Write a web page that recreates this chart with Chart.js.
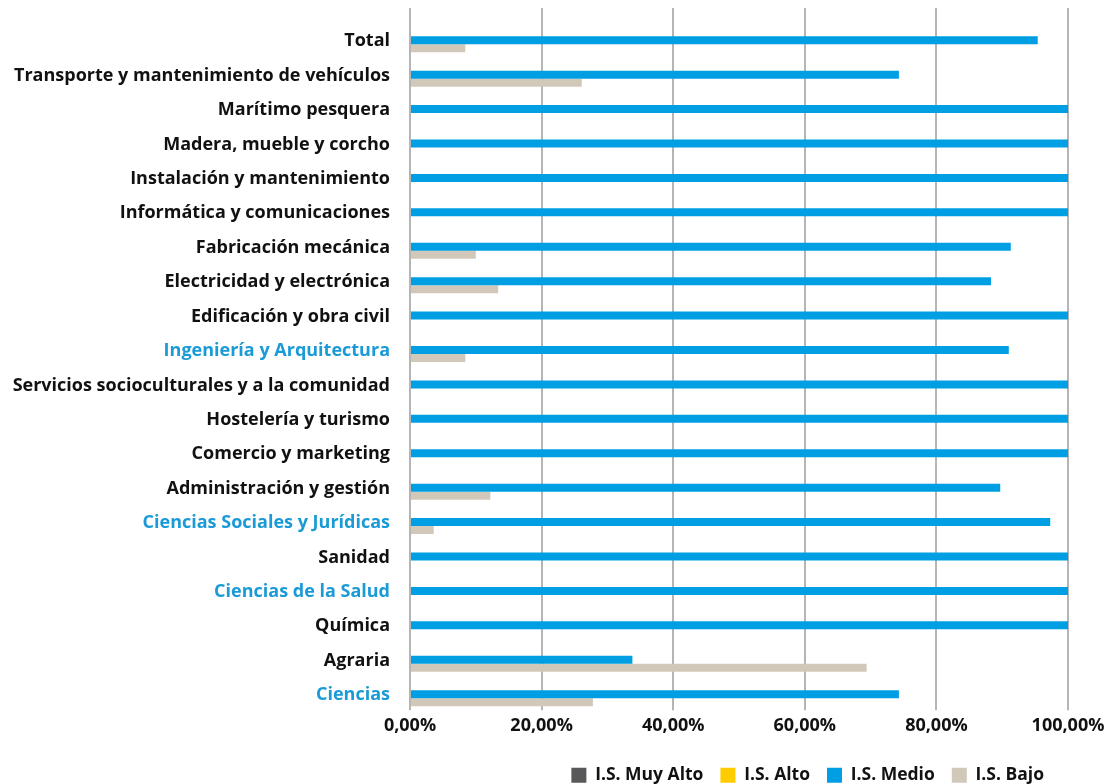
<!DOCTYPE html>
<html>
<head>
<meta charset="utf-8">
<script src="https://cdn.jsdelivr.net/npm/chart.js@4.4.1/dist/chart.umd.min.js"></script>
<style>
  html, body { margin: 0; padding: 0; background: #ffffff; }
  #chart { display: block; }
</style>
</head>
<body>
<canvas id="chart" width="1106" height="784"></canvas>
<script>
// categories, top to bottom
const familias = [
    'Total',
    'Transporte y mantenimiento de vehículos',
    'Marítimo pesquera',
    'Madera, mueble y corcho',
    'Instalación y mantenimiento',
    'Informática y comunicaciones',
    'Fabricación mecánica',
    'Electricidad y electrónica',
    'Edificación y obra civil',
    'Ingeniería y Arquitectura',
    'Servicios socioculturales y a la comunidad',
    'Hostelería y turismo',
    'Comercio y marketing',
    'Administración y gestión',
    'Ciencias Sociales y Jurídicas',
    'Sanidad',
    'Ciencias de la Salud',
    'Química',
    'Agraria',
    'Ciencias'
];

// rama headers are drawn in blue
const ramas = ['Ingeniería y Arquitectura', 'Ciencias Sociales y Jurídicas', 'Ciencias de la Salud', 'Ciencias'];

const muyAlto = [0, 0, 0, 0, 0, 0, 0, 0, 0, 0, 0, 0, 0, 0, 0, 0, 0, 0, 0, 0];
const alto    = [0, 0, 0, 0, 0, 0, 0, 0, 0, 0, 0, 0, 0, 0, 0, 0, 0, 0, 0, 0];
const medio   = [95.4, 74.3, 100, 100, 100, 100, 91.3, 88.3, 100, 91.0, 100, 100, 100, 89.7, 97.3, 100, 100, 100, 33.8, 74.3];
const bajo    = [8.4, 26.1, 0, 0, 0, 0, 10.0, 13.4, 0, 8.4, 0, 0, 0, 12.2, 3.6, 0, 0, 0, 69.4, 27.8];

const xTicks = [0, 20, 40, 60, 80, 100];

const gridGray = '#b5b5b5';
const blueLabel = '#1a9ad6';
const fontFamily = '"Open Sans", "Noto Sans", sans-serif';

function fmtPct(v) {
    return v.toFixed(2).replace('.', ',') + '%';
}

// moves the legend row a bit to the left, like the original
const legendShift = {
    id: 'legendShift',
    afterLayout(chart) {
        chart.legend.left -= 7;
        chart.legend.right -= 7;
    }
};

// keep the plot's right edge fixed, the last tick label may overhang
function noSidePadding(scale) {
    scale.paddingLeft = 0;
    scale.paddingRight = 0;
}

const ctx = document.getElementById('chart');

const myChart = new Chart(ctx, {
    type: 'bar',
    data: {
        labels: familias,
        datasets: [
            { label: 'I.S. Muy Alto', data: muyAlto, backgroundColor: '#58585a' },
            { label: 'I.S. Alto', data: alto, backgroundColor: '#ffcc00' },
            { label: 'I.S. Medio', data: medio, backgroundColor: '#009fe3' },
            { label: 'I.S. Bajo', data: bajo, backgroundColor: '#d1c8ba' }
        ]
    },
    plugins: [legendShift],
    options: {
        indexAxis: 'y',
        responsive: false,
        animation: false,
        categoryPercentage: 0.93,
        barPercentage: 1.0,
        layout: {
            padding: { top: 8, right: 38, bottom: -10, left: 0 }
        },
        scales: {
            x: {
                type: 'linear',
                position: 'bottom',
                min: 0,
                max: 100,
                afterBuildTicks: (scale) => {
                    scale.ticks = xTicks.map(v => ({ value: v }));
                },
                afterFit: noSidePadding,
                grid: {
                    color: gridGray,
                    lineWidth: 2,
                    drawTicks: true,
                    tickLength: 3
                },
                border: { display: false },
                ticks: {
                    color: '#111111',
                    padding: 5,
                    font: { family: fontFamily, size: 18, weight: 'bold' },
                    callback: (v) => fmtPct(v)
                },
                // empty title, only used as spacing above the legend
                title: {
                    display: true,
                    text: '',
                    padding: 0,
                    font: { size: 6.3 }
                }
            },
            xTop: {
                type: 'linear',
                position: 'top',
                axis: 'x',
                min: 0,
                max: 100,
                afterBuildTicks: (scale) => {
                    scale.ticks = xTicks.map(v => ({ value: v }));
                },
                afterFit: noSidePadding,
                grid: {
                    color: gridGray,
                    lineWidth: 2,
                    drawOnChartArea: false,
                    drawTicks: true,
                    tickLength: 11
                },
                border: { display: false },
                ticks: { display: false }
            },
            y: {
                grid: { display: false, drawTicks: false },
                border: { display: false },
                afterFit: (scale) => {
                    scale.width = 410;
                    scale.paddingTop = 0;
                    scale.paddingBottom = 0;
                },
                ticks: {
                    padding: 20,
                    labelOffset: 5,
                    font: { family: fontFamily, size: 18, weight: 'bold' },
                    color: (c) => ramas.includes(familias[c.index]) ? blueLabel : '#111111'
                }
            }
        },
        plugins: {
            tooltip: { enabled: false },
            legend: {
                position: 'bottom',
                align: 'end',
                fullSize: false,
                labels: {
                    boxWidth: 15,
                    boxHeight: 15,
                    padding: 17,
                    color: '#111111',
                    font: { family: fontFamily, size: 17.5, weight: 'bold' }
                }
            }
        }
    }
});
</script>
</body>
</html>
